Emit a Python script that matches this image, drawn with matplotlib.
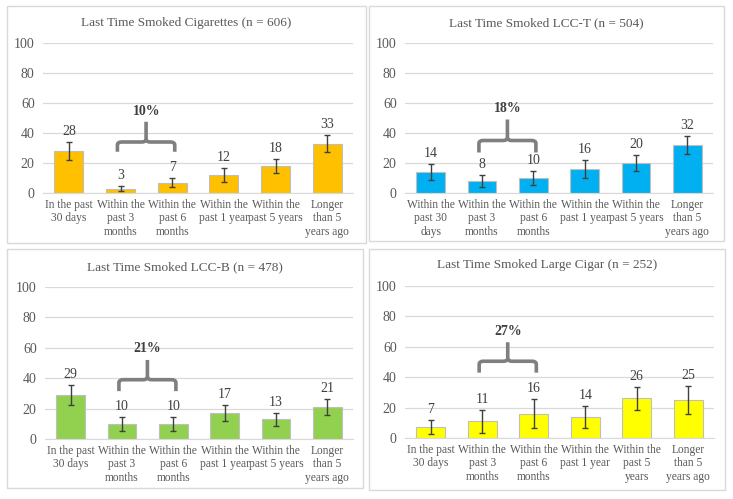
import matplotlib
matplotlib.use("Agg")
import matplotlib.pyplot as plt
from matplotlib.path import Path
from matplotlib.patches import PathPatch, Rectangle

W, H = 733, 499

# --- data ---
titles = [
    "Last Time Smoked Cigarettes (n = 606)",
    "Last Time Smoked LCC-T (n = 504)",
    "Last Time Smoked LCC-B (n = 478)",
    "Last Time Smoked Large Cigar (n = 252)",
]
labels_a = ["In the past\n30 days", "Within the\npast 3\nmonths", "Within the\npast 6\nmonths",
            "Within the\npast 1 year", "Within the\npast 5 years", "Longer\nthan 5\nyears ago"]
labels_b = ["Within the\npast 30\ndays", "Within the\npast 3\nmonths", "Within the\npast 6\nmonths",
            "Within the\npast 1 year", "Within the\npast 5 years", "Longer\nthan 5\nyears ago"]
labels_d = ["In the past\n30 days", "Within the\npast 3\nmonths", "Within the\npast 6\nmonths",
            "Within the\npast 1 year", "Within the\npast 5\nyears", "Longer\nthan 5\nyears ago"]

cig_vals = [28, 3, 7, 12, 18, 33]
cig_err = [5.8, 1.5, 2.8, 4.6, 4.5, 5.4]
lcct_vals = [14, 8, 10, 16, 20, 32]
lcct_err = [5.2, 3.8, 4.6, 5.8, 5.2, 5.8]
lccb_vals = [29, 10, 10, 17, 13, 21]
lccb_err = [6.5, 4.5, 4.5, 5.3, 4.2, 5.0]
cigar_vals = [7, 11, 16, 14, 26, 25]
cigar_err = [4.6, 7.6, 9.4, 7.2, 7.4, 9.4]

combined = ["10%", "18%", "21%", "27%"]

# --- layout (pixels) ---
panels = [
    dict(box=(7, 6, 366, 243), ax=(43, 43, 353, 193), title_y=23, color="#FFC000",
         vals=cig_vals, err=cig_err, labels=labels_a, br=(34, 27.5, 47.5, 50)),
    dict(box=(369, 6, 724, 241), ax=(405, 43, 713, 193), title_y=23, color="#00B0F0",
         vals=lcct_vals, err=lcct_err, labels=labels_b, br=(35, 27, 49, 52)),
    dict(box=(7, 249, 363, 488), ax=(45, 287, 353, 439), title_y=267, color="#92D050",
         vals=lccb_vals, err=lccb_err, labels=labels_a, br=(39, 31.5, 52, 55)),
    dict(box=(369, 249, 725, 490), ax=(405, 286, 714, 438), title_y=265, color="#FFFF00",
         vals=cigar_vals, err=cigar_err, labels=labels_d, br=(50.5, 43, 63, 66)),
]

plt.rcParams["font.family"] = ["Liberation Serif", "DejaVu Serif"]
text_col = "#595959"

fig = plt.figure(figsize=(W / 100, H / 100), dpi=100)


def frac(l, t, r, b):
    return [l / W, 1 - b / H, (r - l) / W, (b - t) / H]


def draw_bracket(ax, x1, x2, yb, ye, yt):
    xm = (x1 + x2) / 2
    rx, ry = 0.08, 2.0
    left = [(x1, ye), (x1, yb - ry), (x1, yb), (x1 + rx, yb), (xm - rx, yb),
            (xm, yb), (xm, yb + ry), (xm, yt)]
    codes = [Path.MOVETO, Path.LINETO, Path.CURVE3, Path.CURVE3, Path.LINETO,
             Path.CURVE3, Path.CURVE3, Path.LINETO]
    right = [(x2, ye), (x2, yb - ry), (x2, yb), (x2 - rx, yb), (xm + rx, yb),
             (xm, yb), (xm, yb + ry)]
    codes_r = codes[:-1]
    for verts, cds in ((left, codes), (right, codes_r)):
        ax.add_patch(PathPatch(Path(verts, cds), fill=False, edgecolor="#7F7F7F",
                               lw=2.6, capstyle="butt", joinstyle="round", clip_on=False))


for i, p in enumerate(panels):
    l, t, r, b = p["box"]
    fig.add_artist(Rectangle((l / W, 1 - b / H), (r - l) / W, (b - t) / H,
                             transform=fig.transFigure, fill=False,
                             edgecolor="#D9D9D9", lw=1.0))
    fig.text((l + r) / 2 / W, 1 - p["title_y"] / H, titles[i], ha="center", va="center",
             fontsize=9.5, color=text_col)

    ax = fig.add_axes(frac(*p["ax"]))
    x = list(range(len(p["vals"])))
    ax.bar(x, p["vals"], width=0.56, color=p["color"], edgecolor="#BFBFBF", lw=0.8, zorder=2)
    ax.errorbar(x, p["vals"], yerr=p["err"], fmt="none", ecolor="#404040",
                elinewidth=1.0, capsize=2.5, capthick=1.0, zorder=3)
    for xi, v, e in zip(x, p["vals"], p["err"]):
        ax.annotate(str(v), (xi, v + e), xytext=(0, 3), textcoords="offset points",
                    ha="center", va="bottom", fontsize=10, color="#404040")

    ax.set_xlim(-0.5, 5.5)
    ax.set_ylim(0, 100)
    ax.set_yticks([0, 20, 40, 60, 80, 100])
    ax.yaxis.grid(True, color="#D9D9D9", lw=0.9, zorder=0)
    ax.set_axisbelow(True)
    ax.set_xticks(x)
    ax.set_xticklabels(p["labels"], fontsize=8.3, color=text_col, linespacing=1.2)
    ax.tick_params(axis="both", length=0, colors=text_col)
    ax.tick_params(axis="y", labelsize=10, pad=6)
    ax.tick_params(axis="x", pad=4)
    for s in ("top", "right", "left"):
        ax.spines[s].set_visible(False)
    ax.spines["bottom"].set_color("#D9D9D9")

    yb, ye, yt, yl = p["br"]
    draw_bracket(ax, 0.94, 2.05, yb, ye, yt)
    ax.text(1.5, yl, combined[i], ha="center", va="bottom", fontsize=10,
            fontweight="bold", color="#404040")

fig.savefig("out.png", dpi=100)
